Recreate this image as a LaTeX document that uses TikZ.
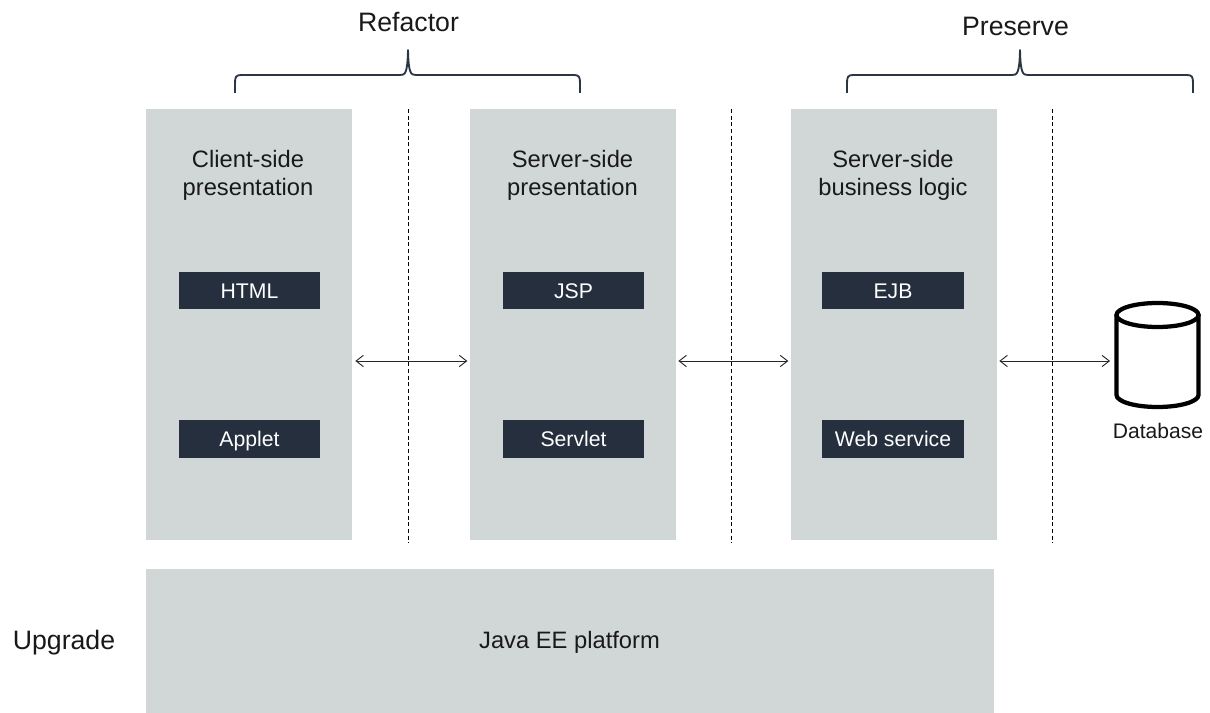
\documentclass[tikz,border=0pt]{standalone}
\usepackage{fontspec}
\setmainfont{Liberation Sans}
\usetikzlibrary{arrows.meta}
\definecolor{panel}{HTML}{D1D7D7}
\definecolor{chip}{HTML}{252F3E}
\definecolor{bracec}{HTML}{2B3543}
\tikzset{
  x=0.75pt,y=-0.75pt,
  panelbox/.style={fill=panel,draw=none,inner sep=0,minimum width=154.2pt,minimum height=323.25pt,anchor=north west},
  chipbox/.style={fill=chip,draw=none,text=white,font=\fontsize{15.9}{19}\selectfont,inner sep=0,minimum width=106pt,minimum height=28pt,text height=11.5pt,text depth=0pt},
  paneltitle/.style={font=\fontsize{17.8}{21}\selectfont,align=center,text=black!90,inner sep=0},
  biarrow/.style={draw=black!85,line width=0.7pt,{Straight Barb[length=5.5pt,width=8.5pt,line width=0.7pt]}-{Straight Barb[length=5.5pt,width=8.5pt,line width=0.7pt]},shorten <=2.5pt,shorten >=2pt},
  divider/.style={draw=black,line width=0.6pt,dash pattern=on 3pt off 2pt},
  bracket/.style={draw=bracec,line width=1.4pt,line join=round},
  biglabel/.style={font=\fontsize{20}{24}\selectfont,text=black!90,inner sep=0},
  dbshape/.style={draw=black,line width=3.2pt}
}
\begin{document}
\begin{tikzpicture}
\useasboundingbox (0,0) rectangle (1210,713);
% panels
\node[panelbox] (p1) at (146,109) {};
\node[panelbox] (p2) at (470,109) {};
\node[panelbox] (p3) at (791,109) {};
\node[fill=panel,inner sep=0,minimum width=636pt,minimum height=108pt,anchor=north west] (platform) at (146,569) {};
% titles
\node[paneltitle] (t1) at (248,175.5) {Client-side\\presentation};
\node[paneltitle] (t2) at (572.5,175.5) {Server-side\\presentation};
\node[paneltitle] (t3) at (893,175.5) {Server-side\\business logic};
% chips
\node[chipbox] (html) at (249.5,290.5) {HTML};
\node[chipbox] (applet) at (249.5,439) {Applet};
\node[chipbox] (jsp) at (573.5,290.5) {JSP};
\node[chipbox] (servlet) at (573.5,439) {Servlet};
\node[chipbox] (ejb) at (893,290.5) {EJB};
\node[chipbox] (ws) at (893,439) {Web service};
% platform
\node[paneltitle] (java) at (569.5,642.5) {Java EE platform};
\node[biglabel] (upgrade) at (64,643) {Upgrade};
% dividers
\coordinate (d1a) at (408,109); \coordinate (d1b) at (408,543);
\coordinate (d2a) at (731,109); \coordinate (d2b) at (731,543);
\coordinate (d3a) at (1052,109); \coordinate (d3b) at (1052,543);
\draw[divider] (d1a) -- (d1b);
\draw[divider] (d2a) -- (d2b);
\draw[divider] (d3a) -- (d3b);
% database
\draw[dbshape,line cap=round] (1198.5,315) -- (1198.5,395)
  arc[start angle=0,end angle=180,x radius=41,y radius=12] -- (1116.5,315);
\draw[dbshape] (1157.5,315) ellipse[x radius=41,y radius=12];
\node[font=\fontsize{15.8}{19}\selectfont,text=black!90,inner sep=0] (dblabel) at (1158,431) {Database};
\node[inner sep=0,minimum width=0pt,minimum height=0pt] (db) at (1113,361) {};
% arrows
\coordinate (a1) at (352,361); \coordinate (a2) at (470,361);
\coordinate (a3) at (675,361); \coordinate (a4) at (791,361);
\coordinate (a5) at (996,361);
\draw[biarrow] (a1) -- (a2);
\draw[biarrow] (a3) -- (a4);
\draw[biarrow] (a5) -- (db);
% braces
\draw[bracket] (235,93) -- (235,83) .. controls (235,77) and (236,75) .. (241,75) -- (400,75)
  .. controls (405,75) and (407.5,74) .. (408,50)
  .. controls (408.5,74) and (411,75) .. (416,75) -- (574,75)
  .. controls (579,75) and (580,77) .. (580,83) -- (580,93);
\draw[bracket] (847,93) -- (847,83) .. controls (847,77) and (848,75) .. (853,75) -- (1012,75)
  .. controls (1017,75) and (1019.5,74) .. (1020,50)
  .. controls (1020.5,74) and (1023,75) .. (1028,75) -- (1187,75)
  .. controls (1192,75) and (1193,77) .. (1193,83) -- (1193,93);
\node[biglabel] (refactor) at (408.5,22) {Refactor};
\node[biglabel] (preserve) at (1015.5,26) {Preserve};
\end{tikzpicture}
\end{document}
